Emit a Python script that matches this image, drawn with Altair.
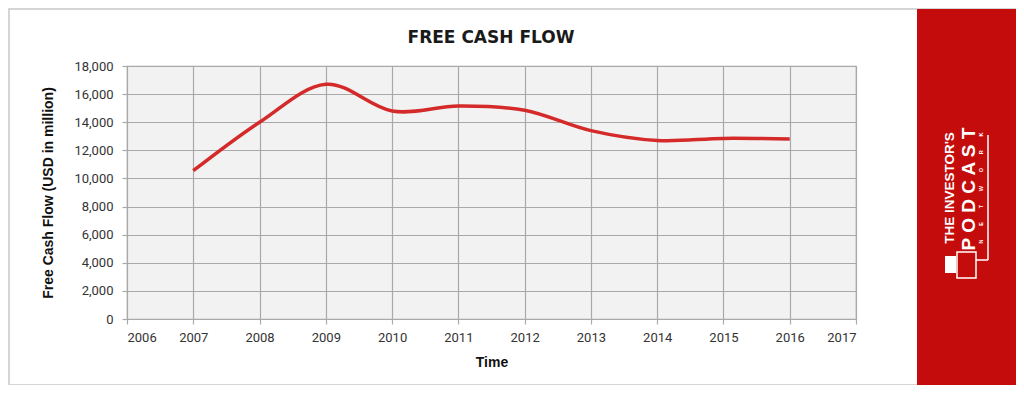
import altair as alt
import pandas as pd

years = [2007, 2008, 2009, 2010, 2011, 2012, 2013, 2014, 2015, 2016]
fcf = [10550, 14000, 16700, 14800, 15150, 14850, 13400, 12700, 12850, 12800]
x_ticks = list(range(2006, 2018))
y_ticks = list(range(0, 18001, 2000))

df = pd.DataFrame({"Year": years, "FCF": fcf})
one = pd.DataFrame({"k": [0]})

W, H = 729, 253

line = alt.Chart(df).mark_line(
    interpolate="cardinal", color="#d42a2a", strokeWidth=3.5
).encode(
    x=alt.X("Year:Q",
            scale=alt.Scale(domain=[2006, 2017], nice=False, zero=False),
            axis=alt.Axis(values=x_ticks, format="d", title="Time",
                          titlePadding=11, labelPadding=7)),
    y=alt.Y("FCF:Q",
            scale=alt.Scale(domain=[0, 18000], nice=False),
            axis=alt.Axis(values=y_ticks, format=",d",
                          title="Free Cash Flow (USD in million)",
                          titlePadding=18, labelPadding=9)),
)

base = alt.Chart(one)

frame = base.mark_rect(fillOpacity=0, stroke="#c8c8c8", strokeWidth=1.5).encode(
    x=alt.value(-118), x2=alt.value(889), y=alt.value(-57), y2=alt.value(319)
)
panel = base.mark_rect(fill="#c40c0c").encode(
    x=alt.value(790), x2=alt.value(889), y=alt.value(-57), y2=alt.value(319)
)
title = base.mark_text(
    text="FREE CASH FLOW", font="DejaVu Sans", fontWeight="bold", fontSize=17,
    color="#1a1a1a", align="center", baseline="middle"
).encode(x=alt.value(364), y=alt.value(-28))

sp = "\u00a0" * 9
logo1 = base.mark_text(
    text="THE INVESTOR'S", font="Liberation Sans", fontWeight="bold", fontSize=13.5,
    color="white", align="center", baseline="middle", angle=270
).encode(x=alt.value(823), y=alt.value(122))
logo2 = base.mark_text(
    text="P O D C A S T", font="Liberation Sans", fontWeight="bold", fontSize=19,
    color="white", align="center", baseline="middle", angle=270
).encode(x=alt.value(842), y=alt.value(123))
logo3 = base.mark_text(
    text=sp.join("NETWORK"), font="Liberation Sans",
    fontWeight="bold", fontSize=5.5,
    color="white", align="center", baseline="middle", angle=270
).encode(x=alt.value(854), y=alt.value(122))
vline = base.mark_rule(color="white", strokeWidth=1.5).encode(
    x=alt.value(861), y=alt.value(69), y2=alt.value(194)
)
hline = base.mark_rule(color="white", strokeWidth=1.5).encode(
    x=alt.value(849), x2=alt.value(861), y=alt.value(194)
)
icon1 = base.mark_rect(fill="white").encode(
    x=alt.value(818), x2=alt.value(829), y=alt.value(190), y2=alt.value(207)
)
icon2 = base.mark_rect(fillOpacity=0, stroke="white", strokeWidth=1.5).encode(
    x=alt.value(830), x2=alt.value(849), y=alt.value(186), y2=alt.value(212)
)

chart = alt.layer(
    frame, panel, line, title, logo1, logo2, logo3, vline, hline, icon1, icon2
).properties(
    width=W, height=H,
    autosize=alt.AutoSizeParams(type="none"),
    padding={"left": 119, "top": 58, "right": 160, "bottom": 66},
    background="white",
).configure_view(
    fill="#f2f2f2", stroke="#a9a9a9", strokeWidth=1.2
).configure_axis(
    gridColor="#a9a9a9", gridWidth=1.2, domain=False,
    tickColor="#a9a9a9", tickSize=5, tickWidth=1.2,
    labelFont="Roboto", labelFontSize=13, labelColor="#333333",
    titleFont="Liberation Sans", titleFontSize=14, titleFontWeight="bold",
    titleColor="#111111",
)

chart.save("out.html", embed_options={"renderer": "svg", "actions": False})
